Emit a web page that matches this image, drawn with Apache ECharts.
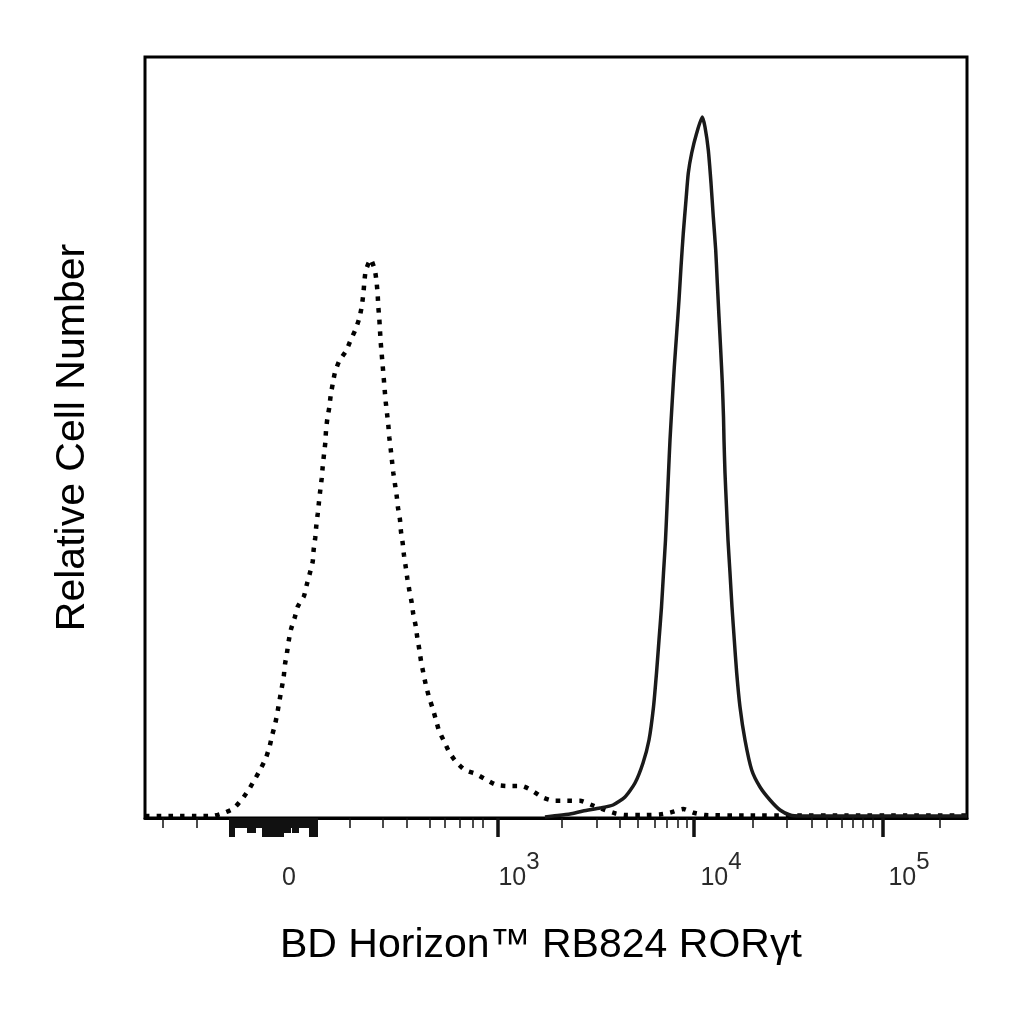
<!DOCTYPE html>
<html>
<head>
<meta charset="utf-8">
<script src="https://cdn.jsdelivr.net/npm/echarts@6/dist/echarts.min.js"></script>
<style>html,body{margin:0;padding:0;background:#fff}#c{width:1024px;height:1024px}</style>
</head>
<body>
<div id="c"></div>
<script>
// Display-channel scale (0..822) of the biexponential x-axis, relative cell number on y.
const isotypeCurve = [
  [0,2],[30,2],[55,2],[67,2],[77.7,4.7],[88.3,9.3],[97,18.7],[104,28.7],[110,39],[115.7,49.3],
  [121,60.3],[124.7,72],[127.3,83.3],[130.3,94.7],[132.7,107],[134.7,118.7],[136.7,129.7],
  [138.7,141.3],[140,153.7],[142,165.3],[143.7,177],[146,188.7],[149.7,200.3],[152.7,211.3],
  [159,222],[161.7,233],[165,245.3],[167.7,256.3],[168.7,268.7],[170.3,280.7],[171.3,292.3],
  [172.7,304],[174,316.3],[175.3,328],[176.7,339.7],[177.7,351.3],[179,363.7],[180.3,375.3],
  [181,387],[182.3,399],[184.3,410.7],[185.7,422.7],[187.7,434],[190,445.7],[194.3,457],
  [201,467],[205.7,478],[210.3,488],[214.3,499.7],[216.7,511.3],[218.3,523.7],[219.3,535.3],
  [220.7,547],[225.7,558.7],[230,547],[231.7,534.7],[232.7,523],[233.3,511.3],[234.3,499.3],
  [235,487.3],[235.7,475.7],[236.7,464],[237.7,452],[238.7,440.3],[239.7,428],[240.7,416.3],
  [242,404.7],[243.3,393],[244.3,380.7],[245.7,369],[247,357],[248.3,345.3],[250,333.7],
  [251.7,322],[253,310.3],[255,298],[256,286.3],[257.7,274.7],[259,262.7],[260.7,251.3],
  [262.3,239.7],[264.3,228],[266.7,215.3],[268.3,203.7],[270.7,192],[272.3,180.3],[274.3,168.7],
  [276,157],[278.3,145.3],[280.7,133.7],[283.7,122],[287.3,110.7],[290.7,99],[294,87.3],
  [299.3,76.3],[304.3,65.7],[311,56.3],[320,48],[331,44],[341.7,38],[351.7,33],[364.3,32],
  [376.7,32],[387.7,27],[398.3,20.3],[409.3,17.3],[421.7,17.3],[435,17.3],[446.7,13],
  [458.3,8.7],[470,4.7],[480,3],[500,3],[515,3.5],[525,5.3],[538.3,9],[548.3,5.3],[560,3],
  [600,2.5],[650,2.5],[700,2.5],[760,2.5],[822,2.5]
];
const stainedCurve = [
  [400,1],[408,2],[425,4],[438,7],[455,10],[468,13],[480,21],[490,35],[498,55],[504,78],
  [508.5,111],[511.5,145],[514,178],[516.5,211],[518.5,245],[520.5,278],[522,311],[523.5,345],
  [525,378],[527.3,418],[529.3,451],[531.7,485],[534,518],[536,551],[538.3,585],[541,618],
  [543.3,645],[546.7,665],[551.7,685],[557.3,701],[560,691],[563.3,668],[566,635],[568.3,601],
  [570.7,568],[572.3,535],[574,501],[575.7,468],[577.3,435],[578.5,401],[579,378],[580,345],
  [581.5,311],[583,278],[585,245],[587,211],[589.3,178],[591.7,145],[595,111],[600,78],
  [606.7,48],[615,31],[625,18],[635,8],[645,3],[655,2],[700,2],[760,2],[822,2]
];
const minorTicks = [18,52,205,238,262,285,300,315,328,338,417,452,475,493,510,522,533,542,608,642,667,682,697,708,718,728,795];
const majorTicks = [353,549,738];
const clusterLongTicks = [85,87,89,118,120,122,124,126,128,130,132,134,136,138,165,167,169,171,172];
const clusterMidTicks = [103,105,107,109,110,139,141,143,145,148,150,152,153];
const clusterShortTicks = [85,87,89,91,93,95,97,99,101,103,105,107,109,111,113,115,117,119,121,123,125,127,129,131,133,135,137,139,141,143,145,147,149,151,153,155,157,159,161,163,165,167,169,171,172];
const tickLabelPos = [144,374,576,764];
const tickLabelBase = ['0','10','10','10'];
const tickLabelExp = ['','3','4','5'];
const xTitle = 'BD Horizon\u2122 RB824 ROR\u03b3t';
const yTitle = 'Relative Cell Number';

const FONT = 'Liberation Sans, Arial, Helvetica, sans-serif';
const X_MIN = 0, X_MAX = 822, Y_MIN = 0, Y_MAX = 761;

function tickAxis(values, len, width, extra) {
  return Object.assign({
    type: 'value', min: X_MIN, max: X_MAX, position: 'bottom',
    axisLine: {show: false},
    axisTick: {show: true, customValues: values, length: len, inside: false,
      lineStyle: {color: '#111', width: width}},
    axisLabel: {show: false},
    splitLine: {show: false}
  }, extra || {});
}

const chart = echarts.init(document.getElementById('c'), null, {renderer: 'canvas'});
chart.setOption({
  animation: false,
  backgroundColor: '#fff',
  title: {
    text: xTitle, left: 275, top: 920,
    textStyle: {fontSize: 41, fontWeight: 'normal', fontFamily: FONT, color: '#000'}
  },
  grid: {left: 145, right: 57, top: 57, bottom: 206, show: true,
    borderColor: '#000', borderWidth: 3, backgroundColor: 'transparent'},
  xAxis: [
    tickAxis(minorTicks, 10, 1.5, {axisLine: {show: true, lineStyle: {color: '#000', width: 3}}}),
    tickAxis(majorTicks, 19, 3.5),
    tickAxis(clusterLongTicks, 19, 2),
    tickAxis(clusterMidTicks, 15, 2),
    tickAxis(clusterShortTicks, 10, 2),
    {
      type: 'value', min: X_MIN, max: X_MAX, position: 'bottom',
      axisLine: {show: false}, axisTick: {show: false}, splitLine: {show: false},
      axisLabel: {
        show: true, customValues: tickLabelPos, margin: 32,
        formatter: function (v) {
          let i = tickLabelPos.indexOf(v);
          if (i < 0) return '';
          return tickLabelExp[i] ? '{base|' + tickLabelBase[i] + '}{sup|' + tickLabelExp[i] + '}'
                                 : '{base|' + tickLabelBase[i] + '}';
        },
        rich: {
          base: {fontSize: 25, fontFamily: FONT, color: '#2a2a2a', padding: [16, 0, 0, 0], verticalAlign: 'bottom'},
          sup: {fontSize: 24, fontFamily: FONT, color: '#2a2a2a', verticalAlign: 'top'}
        }
      }
    }
  ],
  yAxis: {
    type: 'value', min: Y_MIN, max: Y_MAX,
    axisLine: {show: false}, axisTick: {show: false}, axisLabel: {show: false}, splitLine: {show: false},
    name: yTitle, nameLocation: 'middle', nameGap: 52,
    nameTextStyle: {fontSize: 41, fontFamily: FONT, color: '#000'}
  },
  series: [
    {
      type: 'line', name: 'isotype', xAxisIndex: 0, data: isotypeCurve, showSymbol: false,
      smooth: 0.2, lineStyle: {color: '#000', width: 4.5, type: [4.5, 7.2], cap: 'butt'}
    },
    {
      type: 'line', name: 'RORγt', xAxisIndex: 0, data: stainedCurve, showSymbol: false,
      smooth: 0.2, lineStyle: {color: '#1a1a1a', width: 3.5}
    }
  ]
});
</script>
</body>
</html>
